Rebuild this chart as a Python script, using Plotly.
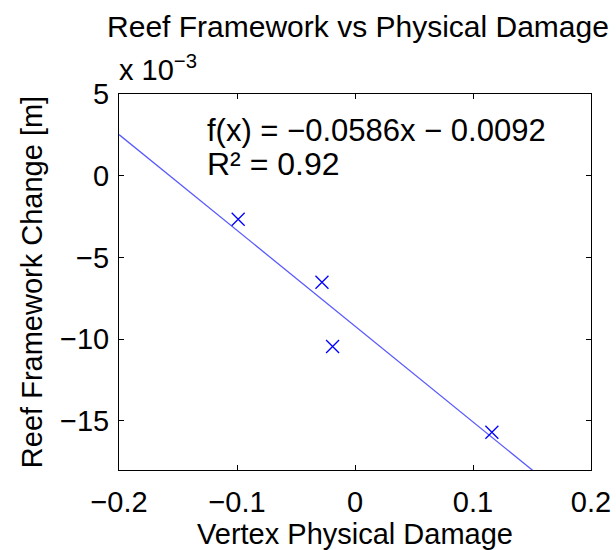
import plotly.graph_objects as go

# Data
damage = [-0.099, -0.028, -0.019, 0.116]          # Vertex Physical Damage
framework_change = [-0.00266, -0.00652, -0.01045, -0.01569]  # Reef Framework Change [m]

fit_slope = -0.0586
fit_intercept = -0.0092
fit_x = [-0.2, 0.2]
fit_y = [fit_slope * v + fit_intercept for v in fit_x]

x_ticks = [-0.2, -0.1, 0, 0.1, 0.2]
x_ticktext = ["\u22120.2", "\u22120.1", "0", "0.1", "0.2"]
y_ticks = [0.005, 0, -0.005, -0.010, -0.015]
y_ticktext = ["5", "0", "\u22125", "\u221210", "\u221215"]

FONT = "Liberation Sans, Arial, Helvetica, sans-serif"
FS = 29
BLUE = "rgb(0,0,255)"

fig = go.Figure()
fig.add_trace(go.Scatter(
    x=fit_x, y=fit_y, mode="lines",
    line=dict(color="rgb(90,90,255)", width=1.3),
    showlegend=False, hoverinfo="skip"))
fig.add_trace(go.Scatter(
    x=damage, y=framework_change, mode="markers",
    marker=dict(symbol="x-thin", size=13, line=dict(color=BLUE, width=1.3)),
    showlegend=False))

axis_common = dict(
    showgrid=False, zeroline=False, showline=True, linecolor="black",
    linewidth=1, mirror="ticks", ticks="inside", ticklen=5,
    tickcolor="black", tickwidth=1, automargin=False,
    tickfont=dict(family=FONT, size=FS, color="black"))

fig.update_xaxes(range=[-0.2, 0.2], tickvals=x_ticks, ticktext=x_ticktext,
                 ticklabelstandoff=6,
                 title=dict(text="Vertex Physical Damage", standoff=6,
                            font=dict(family=FONT, size=FS, color="black")),
                 **axis_common)
fig.update_yaxes(range=[-0.018, 0.005], tickvals=y_ticks, ticktext=y_ticktext,
                 ticklabelstandoff=3,
                 title=dict(text="Reef Framework Change [m]", standoff=8,
                            font=dict(family=FONT, size=FS, color="black")),
                 **axis_common)

ann = []
# exponent
ann.append(dict(text="x 10<sup>\u22123</sup>", xref="paper", yref="paper",
                x=(117 - 119) / 472, y=(470 - 68) / 376, xanchor="left", yanchor="middle",
                showarrow=False, font=dict(family=FONT, size=FS, color="black")))
# fit text
ann.append(dict(text="f(x) = \u22120.0586x \u2212 0.0092", xref="paper", yref="paper",
                x=(205 - 119) / 472, y=(470 - 130) / 376, xanchor="left", yanchor="middle",
                showarrow=False, font=dict(family=FONT, size=31, color="black")))
ann.append(dict(text="R\u00b2 = 0.92", xref="paper", yref="paper",
                x=(205 - 119) / 472, y=(470 - 164) / 376, xanchor="left", yanchor="middle",
                showarrow=False, font=dict(family=FONT, size=32, color="black")))

fig.update_layout(
    width=616, height=550,
    margin=dict(l=119, r=25, t=94, b=80, autoexpand=False),
    paper_bgcolor="white", plot_bgcolor="white",
    title=dict(text="Reef Framework vs Physical Damage", xref="container", yref="container",
               x=358 / 616, y=1 - 26 / 550, xanchor="center", yanchor="middle",
               font=dict(family=FONT, size=30, color="black")),
    annotations=ann,
    font=dict(family=FONT, size=FS, color="black"))

fig.write_html("out.html")
